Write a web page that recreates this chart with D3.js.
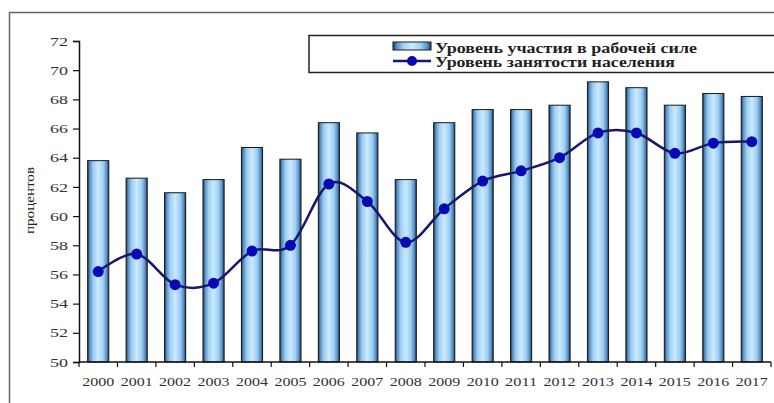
<!DOCTYPE html>
<html><head><meta charset="utf-8">
<script src="https://cdn.jsdelivr.net/npm/d3@7"></script>
<style>body{margin:0;background:#fff}svg{display:block}</style>
</head><body>
<script>
const years = ["2000","2001","2002","2003","2004","2005","2006","2007","2008","2009","2010","2011","2012","2013","2014","2015","2016","2017"];
const participation = [63.8,62.6,61.6,62.5,64.7,63.9,66.4,65.7,62.5,66.4,67.3,67.3,67.6,69.2,68.8,67.6,68.4,68.2];
const employment = [56.2,57.4,55.3,55.4,57.6,58.0,62.2,61.0,58.2,60.5,62.4,63.1,64.0,65.7,65.7,64.3,65.0,65.1];
const yTicks = [50,52,54,56,58,60,62,64,66,68,70,72];
const seriesNames = ["Уровень участия в рабочей силе","Уровень занятости населения"];
const yLabel = "процентов";

const W = 774, H = 403;
const FONT = "'Liberation Serif', 'Times New Roman', serif";
const svg = d3.select("body").append("svg").attr("width", W).attr("height", H);
const defs = svg.append("defs");
const g = defs.append("linearGradient").attr("id","barGrad").attr("x1","0").attr("x2","1").attr("y1","0").attr("y2","0");
[[0,"#22384f"],[0.1,"#5890c6"],[0.26,"#9ccef3"],[0.5,"#cbeaff"],[0.74,"#9ccef3"],[0.9,"#5890c6"],[1,"#22384f"]]
  .forEach(([o,c]) => g.append("stop").attr("offset",o).attr("stop-color",c));

// outer frame
svg.append("rect").attr("x",9.5).attr("y",12.5).attr("width",W+20).attr("height",H+20)
  .attr("fill","none").attr("stroke","#666").attr("stroke-width",1.5);

const m = {left:79, right:771, top:41, bottom:362};
const x = d3.scaleBand().domain(years).range([m.left, m.right]).paddingInner(0.45).paddingOuter(0.225);
const xb = d3.scaleBand().domain(years).range([m.left, m.right]);
const y = d3.scaleLinear().domain([50,72]).range([m.bottom, m.top]);

// bars
svg.append("g").selectAll("rect").data(years).join("rect")
  .attr("x", d => x(d)).attr("width", x.bandwidth())
  .attr("y", (d,i) => y(participation[i])).attr("height", (d,i) => y(50) - y(participation[i]))
  .attr("fill","url(#barGrad)").attr("stroke","#1a1a1a").attr("stroke-width",1);

// y axis
const yAxis = svg.append("g").attr("transform",`translate(${m.left},0)`)
  .call(d3.axisLeft(y).tickValues(yTicks).tickSize(6).tickPadding(5).tickFormat(d3.format("d")));
yAxis.select(".domain").attr("stroke","#111").attr("stroke-width",1.5);
yAxis.selectAll(".tick line").attr("stroke","#111").attr("stroke-width",1.2);
yAxis.selectAll("text").attr("font-family",FONT).attr("font-size",13).attr("fill","#333")
  .attr("textLength",18).attr("lengthAdjust","spacingAndGlyphs");

// x axis
const xAxisG = svg.append("g").attr("transform",`translate(0,${m.bottom})`);
xAxisG.append("line").attr("x1",m.left).attr("x2",m.right).attr("stroke","#111").attr("stroke-width",1.5);
xAxisG.selectAll("line.tk").data(years.concat(["end"])).join("line").attr("class","tk")
  .attr("x1",(d,i)=> m.left + i*xb.bandwidth()).attr("x2",(d,i)=> m.left + i*xb.bandwidth())
  .attr("y1",0).attr("y2",5).attr("stroke","#111").attr("stroke-width",1.2);
xAxisG.selectAll("text").data(years).join("text")
  .attr("x", d => xb(d) + xb.bandwidth()/2 - 16).attr("y", 23.5)
  .attr("textLength",32).attr("lengthAdjust","spacingAndGlyphs")
  .attr("font-family",FONT).attr("font-size",13.5).attr("fill","#333").text(d => d);

// y label
svg.append("text").attr("transform",`translate(34,${201}) rotate(-90)`)
  .attr("x",-33).attr("textLength",67).attr("lengthAdjust","spacingAndGlyphs")
  .attr("font-family",FONT).attr("font-size",13)
  .attr("fill","#222").text(yLabel);

// line
const cx = (d,i) => xb(years[i]) + xb.bandwidth()/2;
const line = d3.line().x(cx).y(d => y(d)).curve(d3.curveCardinal.tension(0));
svg.append("path").datum(employment).attr("d", line).attr("fill","none")
  .attr("stroke","#17176e").attr("stroke-width",2.5);
svg.append("g").selectAll("circle").data(employment).join("circle")
  .attr("cx", cx).attr("cy", d => y(d)).attr("r",5.5).attr("fill","#0808b4");

// legend
const lg = svg.append("g");
lg.append("rect").attr("x",309).attr("y",35.5).attr("width",480).attr("height",37)
  .attr("fill","#fff").attr("stroke","#222").attr("stroke-width",1.5);
lg.append("rect").attr("x",393).attr("y",42).attr("width",38).attr("height",8)
  .attr("fill","url(#barGrad)").attr("stroke","#1a1a1a");
lg.append("line").attr("x1",393).attr("x2",431).attr("y1",61).attr("y2",61).attr("stroke","#17176e").attr("stroke-width",2.5);
lg.append("circle").attr("cx",412).attr("cy",61).attr("r",5).attr("fill","#0808b4");
const legLens = [262, 240];
lg.selectAll("text").data(seriesNames).join("text")
  .attr("x",435).attr("y",(d,i)=> 52.5 + i*14.5)
  .attr("textLength",(d,i)=>legLens[i]).attr("lengthAdjust","spacingAndGlyphs")
  .attr("font-family",FONT).attr("font-weight","bold").attr("font-size",15)
  .attr("fill","#222").text(d => d);
</script>
</body></html>
